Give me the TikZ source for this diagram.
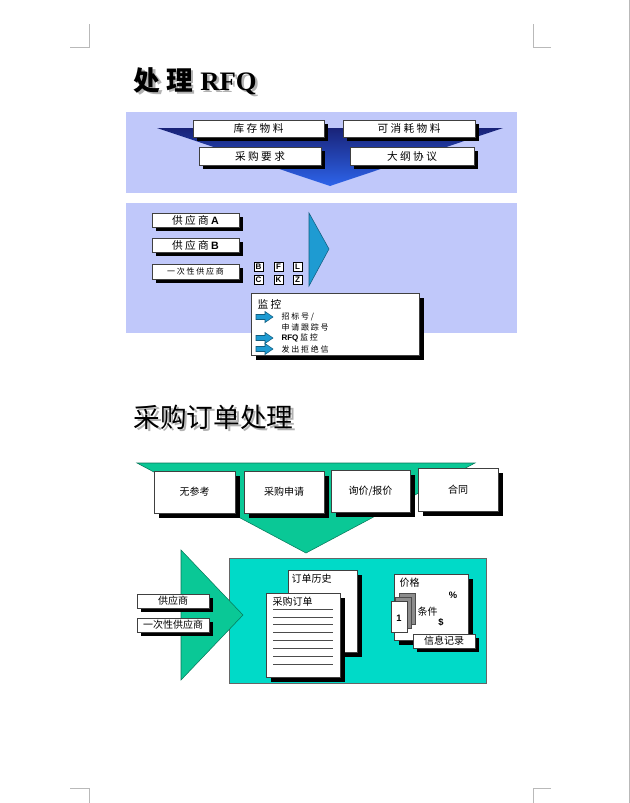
\documentclass[tikz,border=0pt]{standalone}
\usepackage{fontspec}
\setmainfont{Liberation Sans}
\newfontfamily\cjk{Noto Sans CJK SC}
\newfontfamily\titleserif{Liberation Serif}
\usetikzlibrary{shadows,fit}

\definecolor{panelblue}{RGB}{192,200,250}
\definecolor{funneltop}{RGB}{25,35,120}
\definecolor{funnelbot}{RGB}{45,100,235}
\definecolor{pointblue}{RGB}{30,155,210}
\definecolor{flowgreen}{RGB}{10,200,150}
\definecolor{tealpanel}{RGB}{0,218,200}
\definecolor{cropgrey}{RGB}{185,185,185}

\newcommand{\latb}[1]{{\rmfamily\bfseries #1}}
\newcommand{\rfqtitle}{{\cjk\bfseries 处 理} {\titleserif\bfseries RFQ}}

\tikzset{every picture/.style={line width=0.75pt},
  cropmark/.style={draw=cropgrey, line width=0.6pt},
  blackshadow/.style={drop shadow={shadow xshift=#1, shadow yshift=-#1, opacity=1, fill=black}},
  blackshadow/.default=3pt,
  lbl/.style={draw=black!75, fill=white, line width=0.5pt, inner sep=0pt},
  cnfont/.style={font=\cjk\fontsize{8}{9.6}\selectfont},
  cnsmall/.style={font=\cjk\fontsize{6}{7.2}\selectfont},
  cnlow/.style={font=\cjk\fontsize{7.5}{9}\selectfont},
  txt/.style={label={[cnfont, inner sep=0pt]center:#1}},
  txtsmall/.style={label={[cnsmall, inner sep=0pt]center:#1}},
  txtlow/.style={label={[cnlow, inner sep=0pt]center:#1}},
  bigtitle/.style={anchor=west, inner sep=0pt, font=\fontsize{20}{24}\selectfont},
  keybox/.style={draw=black, line width=0.6pt, fill=white, minimum size=6.75pt, inner sep=0pt, font=\bfseries\fontsize{6}{6}\selectfont},
  arrowicon/.style={fill=pointblue, draw=pointblue!60!black, line width=0.4pt},
  docline/.style={draw=black!70, line width=0.6pt},
}

\begin{document}
\begin{tikzpicture}[x=0.75pt,y=0.75pt,yscale=-1,xscale=1]
\useasboundingbox (0,0) rectangle (630,803);

% crop marks
\draw[cropmark] (70,47) -- (89,47) -- (89,24);
\draw[cropmark] (551,47) -- (533,47) -- (533,24);
\draw[cropmark] (70,788) -- (89,788) -- (89,803);
\draw[cropmark] (551,788) -- (533,788) -- (533,803);
\draw[cropmark] (629,0) -- (629,803);

% RFQ part
\node[bigtitle, text=black!30] (rfqshadow) at (135.5,83.5) {\rfqtitle};
\node[bigtitle] (rfqtitle) at (133,81) {\rfqtitle};

\fill[panelblue] (126,112) rectangle (517,193);
\shade[top color=funneltop, bottom color=funnelbot] (157,128) -- (503,128) -- (330,186) -- cycle;

\node[lbl, blackshadow, fit={(193,120) (324,137)}, txt={库 存 物 料}] (stock) {};
\node[lbl, blackshadow, fit={(343,120) (475,137)}, txt={可 消 耗 物 料}] (consum) {};
\node[lbl, blackshadow, fit={(199,147) (321,165)}, txt={采 购 要 求}] (request) {};
\node[lbl, blackshadow, fit={(350,147) (474,165)}, txt={大 纲 协 议}] (outline) {};

\fill[panelblue] (126,203) rectangle (517,333);
\draw[fill=pointblue, draw=pointblue!60!black, line width=0.4pt] (309,213) -- (329,249) -- (309,286) -- cycle;

\node[lbl, blackshadow, fit={(152,213) (239,227)}, txt={供 应 商 \latb{A}}] (vendora) {};
\node[lbl, blackshadow, fit={(152,238) (239,252)}, txt={供 应 商 \latb{B}}] (vendorb) {};
\node[lbl, blackshadow, fit={(152,264) (239,279)}, txtsmall={一 次 性 供 应 商}] (onetime) {};

\foreach \ch/\x/\y [count=\i] in {B/258.5/267, F/278.5/267, L/297.5/267, C/258.5/280, K/278.5/280, Z/297.5/280}
  \node[keybox] (key\i) at (\x,\y) {\ch};

\node[lbl, blackshadow=3.75pt, fit={(251,293) (419,355)}] (monitor) {};
\node[cnfont, anchor=west, inner sep=0pt] (montitle) at (257,304) {监 控};
\foreach \y in {317,338,349}
  \draw[arrowicon] (256,\y-2.5) -- (265,\y-2.5) -- (265,\y-5.5) -- (273,\y) -- (265,\y+5.5) -- (265,\y+2.5) -- (256,\y+2.5) -- cycle;
\node[cnsmall, anchor=west, inner sep=0pt] (mon1) at (281,317) {招 标 号 /};
\node[cnsmall, anchor=west, inner sep=0pt] (mon2) at (281,327) {申 请 跟 踪 号};
\node[cnsmall, anchor=west, inner sep=0pt] (mon3) at (281,338) {\latb{RFQ} 监 控};
\node[cnsmall, anchor=west, inner sep=0pt] (mon4) at (281,349) {发 出 拒 绝 信};

% purchase order part
\node[bigtitle, font=\cjk\fontsize{20}{24}\selectfont, text=black!30] (poshadow) at (135.5,419.5) {采购订单处理};
\node[bigtitle, font=\cjk\fontsize{20}{24}\selectfont] (potitle) at (133,417) {采购订单处理};

\draw[fill=flowgreen, draw=flowgreen!60!black, line width=0.4pt] (137,463) -- (475,463) -- (306,553) -- cycle;

\node[lbl, blackshadow=3.75pt, fit={(154,471) (235,513)}, txtlow={无参考}] (noref) {};
\node[lbl, blackshadow=3.75pt, fit={(244,471) (324,513)}, txtlow={采购申请}] (purreq) {};
\node[lbl, blackshadow=3.75pt, fit={(331,470) (410,512)}, txtlow={询价/报价}] (quote) {};
\node[lbl, blackshadow=3.75pt, fit={(418,468) (498,511)}, txtlow={合同}] (contract) {};

\draw[fill=tealpanel, draw=black!60, line width=0.5pt] (229,558) rectangle (486,683);
\draw[fill=flowgreen, draw=flowgreen!60!black, line width=0.4pt] (181,550) -- (243,615) -- (181,680) -- cycle;

\node[lbl, blackshadow, fit={(137,594) (209,608)}, txtlow={供应商}] (vendor) {};
\node[lbl, blackshadow, fit={(137,618) (209,632)}, txtlow={一次性供应商}] (onetimelow) {};

\node[lbl, blackshadow=3.75pt, fit={(288,570) (357,652)}] (history) {};
\node[cnlow, anchor=west, inner sep=0pt] (historytext) at (291,579) {订单历史};
\node[lbl, blackshadow=3.75pt, fit={(266,593) (340,677)}] (order) {};
\node[cnlow, anchor=west, inner sep=0pt] (ordertext) at (272,602) {采购订单};
\foreach \k in {0,...,7}
  \draw[docline] (273,609+7.9*\k) -- (333,609+7.9*\k);

\node[lbl, blackshadow=3.75pt, fit={(394,574) (468,640)}] (pricedoc) {};
\node[cnlow, anchor=west, inner sep=0pt] (pricetext) at (399,583) {价格};
\node[inner sep=0pt, font=\bfseries\fontsize{7}{8}\selectfont] (percent) at (453,595) {\%};
\draw[fill=black!45, draw=black!70, line width=0.5pt] (399,593) rectangle (415,624);
\draw[fill=black!45, draw=black!70, line width=0.5pt] (395,597) rectangle (411,628);
\node[lbl, fit={(391,601) (407,632)}] (card) {};
\node[inner sep=0pt, font=\bfseries\fontsize{7}{8}\selectfont] (cardnum) at (399,618) {1};
\node[cnlow, anchor=west, inner sep=0pt] (condtext) at (417,612) {条件};
\node[inner sep=0pt, font=\bfseries\fontsize{7}{8}\selectfont] (dollar) at (441,622) {\$};
\node[lbl, blackshadow, fit={(413,634) (475,648)}, txtlow={信息记录}] (inforec) {};

\end{tikzpicture}
\end{document}
